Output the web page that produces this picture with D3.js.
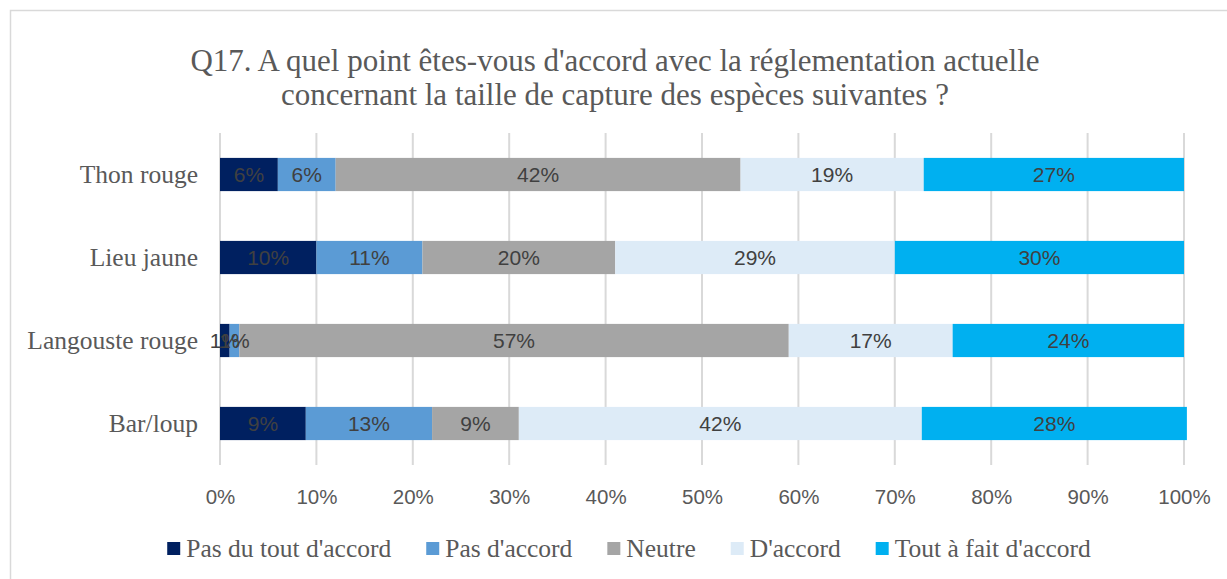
<!DOCTYPE html>
<html>
<head>
<meta charset="utf-8">
<script src="https://cdn.jsdelivr.net/npm/d3@7"></script>
<style>
  body { margin: 0; background: #fff; }
</style>
</head>
<body>
<svg id="chart"></svg>
<script>
var categories = ["Thon rouge", "Lieu jaune", "Langouste rouge", "Bar/loup"];
var seriesNames = ["Pas du tout d'accord", "Pas d'accord", "Neutre", "D'accord", "Tout à fait d'accord"];
// percent per category, in the order of seriesNames
var thonRouge = [6, 6, 42, 19, 27];
var lieuJaune = [10, 11, 20, 29, 30];
var langousteRouge = [1, 1, 57, 17, 24];
var barLoup = [8.9, 13.1, 9.0, 41.8, 27.5];
var tickValues = [0, 10, 20, 30, 40, 50, 60, 70, 80, 90, 100];
var titleLines = ["Q17. A quel point êtes-vous d'accord avec la réglementation actuelle",
                  "concernant la taille de capture des espèces suivantes ?"];

var colors = ["#002060", "#5B9BD5", "#A5A5A5", "#DDEBF7", "#00B0F0"];
var values = [thonRouge, lieuJaune, langousteRouge, barLoup];

var width = 1227, height = 579;
var serif = "'Liberation Serif', 'DejaVu Serif', serif";
var sans = "'Liberation Sans', Arial, sans-serif";

var svg = d3.select("#chart")
    .attr("width", width)
    .attr("height", height);

// chart frame
svg.append("rect")
    .attr("x", 10.5).attr("y", 10.5)
    .attr("width", 1240).attr("height", 600)
    .style("fill", "none")
    .style("stroke", "#D9D9D9")
    .style("stroke-width", "1.5px");

// title
svg.append("text")
    .attr("x", 615)
    .attr("text-anchor", "middle")
    .style("font-family", serif)
    .style("font-size", "31px")
    .style("fill", "#595959")
    .selectAll("tspan")
    .data(titleLines)
    .enter().append("tspan")
    .attr("x", 615)
    .attr("y", function(d, i) { return 71 + i * 34; })
    .text(function(d) { return d; });

var x = d3.scaleLinear().domain([0, 100]).range([220, 1184]);
var y = d3.scaleBand().domain(categories).range([133, 465]).paddingInner(0.6).paddingOuter(0.3);

// gridlines
svg.append("g")
    .selectAll("line")
    .data(tickValues)
    .enter().append("line")
    .attr("x1", function(d) { return x(d); })
    .attr("x2", function(d) { return x(d); })
    .attr("y1", 133)
    .attr("y2", 465)
    .style("stroke", "#D9D9D9")
    .style("stroke-width", "2px");

// x axis tick labels
var xAxis = svg.append("g")
    .attr("transform", "translate(0,465)")
    .call(d3.axisBottom(x).tickValues(tickValues).tickSize(0).tickPadding(24).tickFormat(function(d) { return d + "%"; }));
xAxis.select(".domain").remove();
xAxis.selectAll("text")
    .style("font-family", sans)
    .style("font-size", "20.5px")
    .style("fill", "#595959");

// y axis labels
var yAxis = svg.append("g")
    .attr("transform", "translate(220,0)")
    .call(d3.axisLeft(y).tickSize(0).tickPadding(22));
yAxis.select(".domain").remove();
yAxis.selectAll("text")
    .style("font-family", serif)
    .style("font-size", "25.5px")
    .style("fill", "#595959");

// stacked segments
var rows = categories.map(function(c, i) {
    var acc = 0;
    return values[i].map(function(v, j) {
        var seg = { cat: c, series: j, x0: acc, x1: acc + v, value: v };
        acc += v;
        return seg;
    });
});

var rowG = svg.append("g")
    .selectAll("g")
    .data(rows)
    .enter().append("g");

rowG.selectAll("rect")
    .data(function(d) { return d; })
    .enter().append("rect")
    .attr("x", function(d) { return x(d.x0); })
    .attr("y", function(d) { return y(d.cat); })
    .attr("width", function(d) { return x(d.x1) - x(d.x0); })
    .attr("height", y.bandwidth())
    .style("fill", function(d) { return colors[d.series]; });

rowG.selectAll("text")
    .data(function(d) { return d; })
    .enter().append("text")
    .attr("x", function(d) { return (x(d.x0) + x(d.x1)) / 2; })
    .attr("y", function(d) { return y(d.cat) + y.bandwidth() / 2; })
    .attr("dy", "0.36em")
    .attr("text-anchor", "middle")
    .style("font-family", sans)
    .style("font-size", "21px")
    .style("fill", "#404040")
    .text(function(d) { return Math.round(d.value) + "%"; });

// legend
var legend = svg.append("g").attr("transform", "translate(0,549)");
var item = legend.selectAll("g")
    .data(seriesNames)
    .enter().append("g");
item.append("rect")
    .attr("width", 13).attr("height", 13)
    .attr("y", -7)
    .style("fill", function(d, i) { return colors[i]; });
item.append("text")
    .attr("x", 19)
    .attr("dy", "0.33em")
    .style("font-family", serif)
    .style("font-size", "25.5px")
    .style("fill", "#595959")
    .text(function(d) { return d; });
var pos = 0, offsets = [];
item.each(function() {
    offsets.push(pos);
    pos += 19 + this.querySelector("text").getComputedTextLength() + 35;
});
var total = pos - 35;
var start = 629 - total / 2;
item.attr("transform", function(d, i) { return "translate(" + (start + offsets[i]) + ",0)"; });
</script>
</body>
</html>
